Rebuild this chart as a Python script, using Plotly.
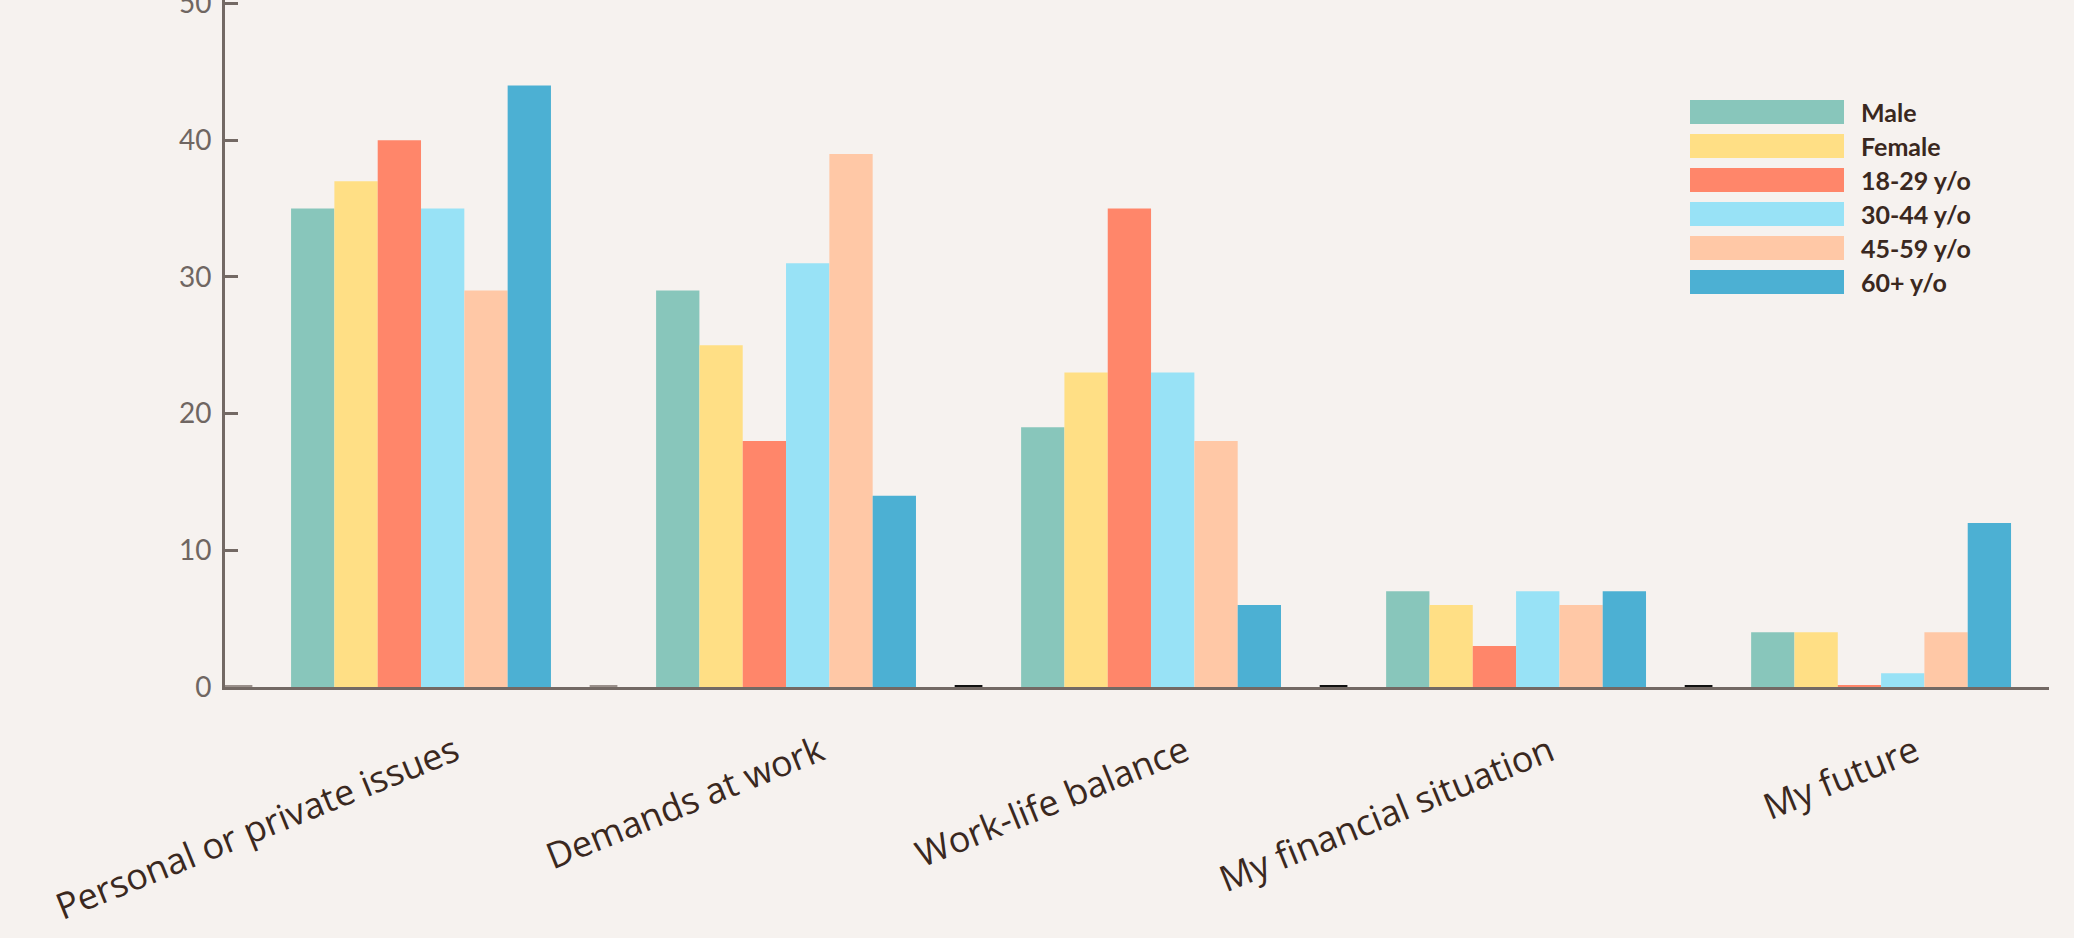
import plotly.graph_objects as go

categories = ["Personal or private issues", "Demands at work", "Work-life balance",
              "My financial situation", "My future"]

groups = ["Male", "Female", "18-29 y/o", "30-44 y/o", "45-59 y/o", "60+ y/o"]
male = [35, 29, 19, 7, 4]
female = [37, 25, 23, 6, 4]
age_18_29 = [40, 18, 35, 3, 0.15]
age_30_44 = [35, 31, 23, 7, 1]
age_45_59 = [29, 39, 18, 6, 4]
age_60_plus = [44, 14, 6, 7, 12]
series = [male, female, age_18_29, age_30_44, age_45_59, age_60_plus]

colors = ["#88C6BB", "#FFDF85", "#FF866A", "#98E2F6", "#FFC8A6", "#4CB0D3"]

y_ticks = [0, 10, 20, 30, 40, 50]

BG = "#F6F2EF"
AXIS = "#736964"
TEXT = "#3A2820"

W, H = 2074, 938
M_L, M_R, M_T, M_B = 225, 25, 0, 251
plot_w = W - M_L - M_R
plot_h = H - M_T - M_B

fig = go.Figure()

for name, vals, col in zip(groups, series, colors):
    fig.add_trace(go.Bar(
        x=categories,
        y=vals,
        name=name,
        marker=dict(color=col, line=dict(width=0)),
        showlegend=False,
    ))

# little dashes at the group boundaries on the baseline
shapes = []
for i in range(len(categories)):
    b = i - 0.5
    shapes.append(dict(
        type="line", xref="x", yref="y",
        x0=b - 0.038, x1=b + 0.038, y0=0, y1=0,
        line=dict(color="#9A908B" if i < 2 else "#111111", width=4),
        layer="above",
    ))

# hand-built legend (long swatches like the original)
row0_px, row_step_px = 112, 34
sw_x0_px, sw_x1_px, sw_h_px = 1690, 1844, 24
txt_x_px = 1859
annotations = []
for k, (name, col) in enumerate(zip(groups, colors)):
    yc = 1 - (row0_px + k * row_step_px - M_T) / plot_h
    hh = (sw_h_px / 2) / plot_h
    shapes.append(dict(
        type="rect", xref="paper", yref="paper",
        x0=(sw_x0_px - M_L) / plot_w, x1=(sw_x1_px - M_L) / plot_w,
        y0=yc - hh, y1=yc + hh,
        fillcolor=col, line=dict(width=0), layer="above",
    ))
    annotations.append(dict(
        xref="paper", yref="paper",
        x=(txt_x_px - M_L) / plot_w, y=yc,
        xanchor="left", yanchor="middle",
        text=name, showarrow=False,
        font=dict(family="Lato", size=25, color=TEXT, weight="bold"),
    ))

fig.update_layout(
    width=W, height=H,
    margin=dict(l=M_L, r=M_R, t=M_T, b=M_B, autoexpand=False),
    paper_bgcolor=BG,
    plot_bgcolor=BG,
    barmode="group",
    bargap=0.288,
    bargroupgap=0,
    shapes=shapes,
    annotations=annotations,
    xaxis=dict(
        type="category",
        range=[-0.537, 4.46],
        automargin=False,
        showline=True, linecolor=AXIS, linewidth=3,
        showgrid=False, zeroline=False,
        ticks="",
        tickangle=-22,
        ticklabelshift=34,
        ticklabelstandoff=27,
        tickfont=dict(family="Open Sans", size=36, color=TEXT),
    ),
    yaxis=dict(
        range=[0, 50.26],
        tickvals=y_ticks,
        automargin=False,
        showline=True, linecolor=AXIS, linewidth=3,
        showgrid=False, zeroline=False,
        ticks="inside", ticklen=13, tickwidth=3, tickcolor=AXIS,
        ticklabelstandoff=5,
        ticklabeloverflow="allow",
        tickfont=dict(family="Lato", size=28, color="#6F6662"),
    ),
)

fig.write_html(
    "out.html",
    config={"displayModeBar": False},
    post_script="document.body.style.margin='0';document.body.style.overflow='hidden';",
)
